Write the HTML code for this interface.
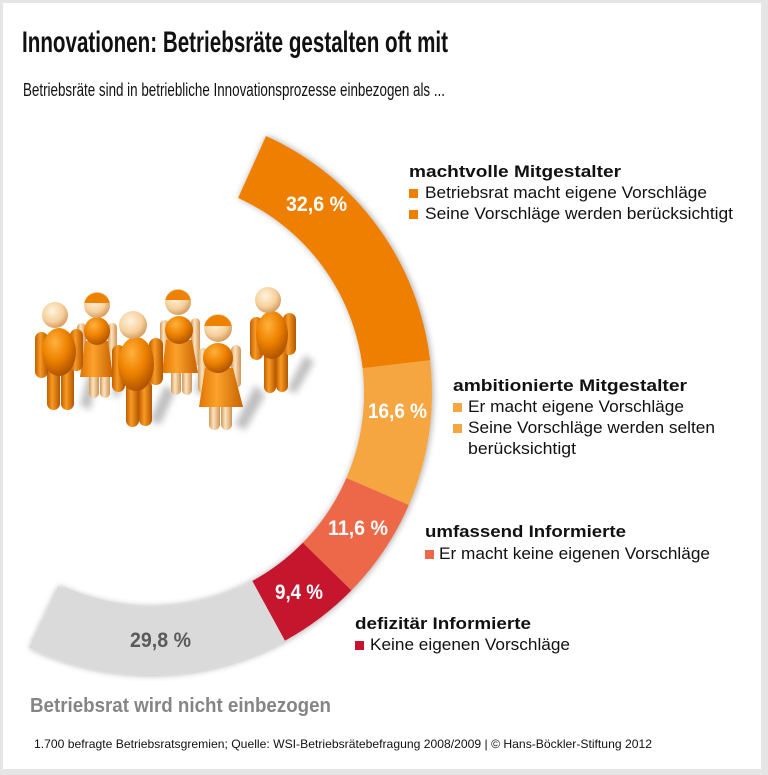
<!DOCTYPE html>
<html><head><meta charset="utf-8">
<style>
html,body{margin:0;padding:0;background:#fff;}
svg{display:block;font-family:"Liberation Sans",Arial,sans-serif;}
</style></head>
<body>
<svg width="768" height="775" viewBox="0 0 768 775" xmlns="http://www.w3.org/2000/svg">
<defs>
  <filter id="glow" x="-10%" y="-10%" width="120%" height="120%">
    <feGaussianBlur in="SourceAlpha" stdDeviation="3.5" result="b"/>
    <feOffset dx="1" dy="0" result="o"/>
    <feComponentTransfer in="o" result="s"><feFuncA type="linear" slope="0.35"/></feComponentTransfer>
    <feMerge><feMergeNode in="s"/><feMergeNode in="SourceGraphic"/></feMerge>
  </filter>
  <filter id="blur" x="-50%" y="-50%" width="200%" height="200%"><feGaussianBlur stdDeviation="3.5"/></filter>
  <radialGradient id="body" cx="38%" cy="30%" r="75%">
    <stop offset="0" stop-color="#ffb13d"/><stop offset="0.5" stop-color="#ee8200"/><stop offset="1" stop-color="#a94e00"/>
  </radialGradient>
  <radialGradient id="skin" cx="40%" cy="35%" r="70%">
    <stop offset="0" stop-color="#fff3df"/><stop offset="0.6" stop-color="#f6d09c"/><stop offset="1" stop-color="#cf9456"/>
  </radialGradient>
  <linearGradient id="limb" x1="0" y1="0" x2="1" y2="0">
    <stop offset="0" stop-color="#c05e00"/><stop offset="0.4" stop-color="#f89a24"/><stop offset="1" stop-color="#b35600"/>
  </linearGradient>
  <linearGradient id="skinlimb" x1="0" y1="0" x2="1" y2="0">
    <stop offset="0" stop-color="#d29858"/><stop offset="0.4" stop-color="#fde4be"/><stop offset="1" stop-color="#cf9254"/>
  </linearGradient>
  <linearGradient id="dress" x1="0" y1="0" x2="1" y2="0">
    <stop offset="0" stop-color="#e27400"/><stop offset="0.4" stop-color="#fba22c"/><stop offset="1" stop-color="#c86200"/>
  </linearGradient>
</defs>

<!-- frame -->
<rect x="0" y="0" width="768" height="775" fill="#e5e5e5"/>
<rect x="3" y="3" width="758" height="766" fill="#ffffff"/>

<!-- title -->
<text x="22" y="52" font-size="30" font-weight="bold" fill="#111" textLength="426" lengthAdjust="spacingAndGlyphs">Innovationen: Betriebsräte gestalten oft mit</text>
<text x="23" y="96" font-size="18" fill="#111" textLength="422" lengthAdjust="spacingAndGlyphs">Betriebsräte sind in betriebliche Innovationsprozesse einbezogen als ...</text>

<!-- ring -->
<g filter="url(#glow)">
  <path d="M266.0 136.0 A282 282 0 0 1 430.1 360.3 L362.6 368.2 A214 214 0 0 0 238.1 198.0 Z" fill="#ef7f00"/>
  <path d="M430.1 360.3 A282 282 0 0 1 408.8 505.0 L346.4 478.0 A214 214 0 0 0 362.6 368.2 Z" fill="#f5a640"/>
  <path d="M408.8 505.0 A282 282 0 0 1 351.4 590.4 L302.8 542.8 A214 214 0 0 0 346.4 478.0 Z" fill="#ec6849"/>
  <path d="M351.4 590.4 A282 282 0 0 1 284.9 640.7 L252.3 581.0 A214 214 0 0 0 302.8 542.8 Z" fill="#c6132f"/>
  <path d="M284.9 640.7 A282 282 0 0 1 29.0 647.7 L58.2 586.3 A214 214 0 0 0 252.3 581.0 Z" fill="#dadada"/>
</g>

<!-- percent labels -->
<g font-weight="bold" font-size="21">
  <text x="286" y="211" fill="#fff" textLength="61" lengthAdjust="spacingAndGlyphs">32,6 %</text>
  <text x="368" y="418" fill="#fff" textLength="59" lengthAdjust="spacingAndGlyphs">16,6 %</text>
  <text x="328" y="535" fill="#fff" textLength="60" lengthAdjust="spacingAndGlyphs">11,6 %</text>
  <text x="275" y="599" fill="#fff" textLength="48" lengthAdjust="spacingAndGlyphs">9,4 %</text>
  <text x="130" y="647" fill="#5a5a5a" textLength="61" lengthAdjust="spacingAndGlyphs">29,8 %</text>
</g>

<!-- legend -->
<g font-size="17" fill="#111">
  <text x="409" y="177" font-weight="bold" textLength="212" lengthAdjust="spacingAndGlyphs">machtvolle Mitgestalter</text>
  <rect x="409" y="189" width="9" height="9" fill="#ef7f00"/>
  <text x="425" y="198" textLength="282" lengthAdjust="spacingAndGlyphs">Betriebsrat macht eigene Vorschläge</text>
  <rect x="409" y="210" width="9" height="9" fill="#ef7f00"/>
  <text x="425" y="219" textLength="308" lengthAdjust="spacingAndGlyphs">Seine Vorschläge werden berücksichtigt</text>

  <text x="453" y="391" font-weight="bold" textLength="234" lengthAdjust="spacingAndGlyphs">ambitionierte Mitgestalter</text>
  <rect x="453" y="403" width="9" height="9" fill="#f5a640"/>
  <text x="468" y="412" textLength="216" lengthAdjust="spacingAndGlyphs">Er macht eigene Vorschläge</text>
  <rect x="453" y="424" width="9" height="9" fill="#f5a640"/>
  <text x="468" y="433" textLength="247" lengthAdjust="spacingAndGlyphs">Seine Vorschläge werden selten</text>
  <text x="468" y="454" textLength="108" lengthAdjust="spacingAndGlyphs">berücksichtigt</text>

  <text x="425" y="537" font-weight="bold" textLength="201" lengthAdjust="spacingAndGlyphs">umfassend Informierte</text>
  <rect x="425" y="550" width="9" height="9" fill="#ec6849"/>
  <text x="439" y="559" textLength="271" lengthAdjust="spacingAndGlyphs">Er macht keine eigenen Vorschläge</text>

  <text x="355" y="629" font-weight="bold" textLength="176" lengthAdjust="spacingAndGlyphs">defizitär Informierte</text>
  <rect x="355" y="641" width="9" height="9" fill="#c6132f"/>
  <text x="370" y="650" textLength="200" lengthAdjust="spacingAndGlyphs">Keine eigenen Vorschläge</text>
</g>

<text x="30" y="712" font-size="20" font-weight="bold" fill="#858585" textLength="301" lengthAdjust="spacingAndGlyphs">Betriebsrat wird nicht einbezogen</text>
<text x="34" y="748" font-size="12" fill="#111" textLength="618" lengthAdjust="spacingAndGlyphs">1.700 befragte Betriebsratsgremien; Quelle: WSI-Betriebsrätebefragung 2008/2009 | © Hans-Böckler-Stiftung 2012</text>

<!-- figure shadows -->
<g fill="#8a8a8a" opacity="0.55" filter="url(#blur)">
  <path d="M80 405 L92 360 L100 365 L90 410 Z"/>
  <path d="M150 420 L165 385 L175 392 L160 425 Z"/>
  <path d="M195 392 L205 350 L214 356 L205 395 Z"/>
  <path d="M235 425 L255 385 L265 395 L245 430 Z"/>
  <path d="M287 390 L305 355 L314 362 L296 393 Z"/>
  <path d="M112 395 L120 370 L127 375 L118 398 Z"/>
</g>

<!-- fig6 man (right back) -->
<g>
  <rect x="264" y="350" width="12" height="43" rx="6" fill="url(#limb)"/>
  <rect x="276" y="350" width="12" height="42" rx="6" fill="url(#limb)"/>
  <rect x="250" y="317" width="13" height="43" rx="6.5" fill="url(#limb)"/>
  <rect x="283" y="313" width="13" height="42" rx="6.5" fill="url(#limb)"/>
  <ellipse cx="272" cy="335" rx="16" ry="24" fill="url(#body)"/>
  <circle cx="268" cy="300" r="13" fill="url(#skin)"/>
</g>
<!-- fig4 woman (back) -->
<g>
  <rect x="171" y="366" width="10" height="29" rx="5" fill="url(#skinlimb)"/>
  <rect x="182" y="366" width="10" height="29" rx="5" fill="url(#skinlimb)"/>
  <rect x="160" y="320" width="9" height="42" rx="4.5" fill="url(#skinlimb)"/>
  <rect x="191" y="318" width="9" height="48" rx="4.5" fill="url(#skinlimb)"/>
  <path d="M166 340 L192 340 L198 373 L162 373 Z" fill="url(#dress)"/>
  <ellipse cx="179" cy="330" rx="14" ry="14" fill="url(#body)"/>
  <circle cx="178" cy="302" r="13" fill="url(#skin)"/>
  <path d="M165.3 300 A13 13 0 0 1 190.7 300 Z" fill="#ee8200"/>
</g>
<!-- fig2 woman (back left) -->
<g>
  <rect x="89" y="370" width="10" height="28" rx="5" fill="url(#skinlimb)"/>
  <rect x="100" y="370" width="10" height="28" rx="5" fill="url(#skinlimb)"/>
  <rect x="77" y="323" width="9" height="47" rx="4.5" fill="url(#skinlimb)"/>
  <rect x="108" y="323" width="9" height="47" rx="4.5" fill="url(#skinlimb)"/>
  <path d="M85 341 L108 341 L113 377 L80 377 Z" fill="url(#dress)"/>
  <ellipse cx="97" cy="331" rx="13" ry="14" fill="url(#body)"/>
  <circle cx="97" cy="305" r="13" fill="url(#skin)"/>
  <path d="M84.3 303 A13 13 0 0 1 109.7 303 Z" fill="#ee8200"/>
</g>
<!-- fig1 man (left) -->
<g>
  <rect x="47" y="366" width="13" height="44" rx="6.5" fill="url(#limb)"/>
  <rect x="61" y="366" width="13" height="44" rx="6.5" fill="url(#limb)"/>
  <rect x="35" y="332" width="13" height="46" rx="6.5" fill="url(#limb)"/>
  <rect x="70" y="329" width="13" height="42" rx="6.5" fill="url(#limb)"/>
  <ellipse cx="59" cy="352" rx="17" ry="24" fill="url(#body)"/>
  <circle cx="55" cy="315" r="13" fill="url(#skin)"/>
</g>
<!-- fig3 man (front center) -->
<g>
  <rect x="126" y="380" width="13" height="47" rx="6.5" fill="url(#limb)"/>
  <rect x="139" y="380" width="13" height="46" rx="6.5" fill="url(#limb)"/>
  <rect x="112" y="345" width="13" height="47" rx="6.5" fill="url(#limb)"/>
  <rect x="149" y="338" width="14" height="47" rx="7" fill="url(#limb)"/>
  <ellipse cx="136" cy="364" rx="18" ry="27" fill="url(#body)"/>
  <circle cx="133" cy="325" r="14" fill="url(#skin)"/>
</g>
<!-- fig5 woman (front right) -->
<g>
  <rect x="209" y="400" width="11" height="30" rx="5.5" fill="url(#skinlimb)"/>
  <rect x="221" y="400" width="11" height="30" rx="5.5" fill="url(#skinlimb)"/>
  <rect x="198" y="348" width="10" height="45" rx="5" fill="url(#skinlimb)"/>
  <rect x="231" y="345" width="10" height="43" rx="5" fill="url(#skinlimb)"/>
  <path d="M205 368 L233 368 L243 407 L199 407 Z" fill="url(#dress)"/>
  <ellipse cx="218" cy="358" rx="15" ry="15" fill="url(#body)"/>
  <circle cx="218" cy="328" r="14" fill="url(#skin)"/>
  <path d="M204.3 326 A14 14 0 0 1 231.7 326 Z" fill="#ee8200"/>
</g>
</svg>
</body></html>
